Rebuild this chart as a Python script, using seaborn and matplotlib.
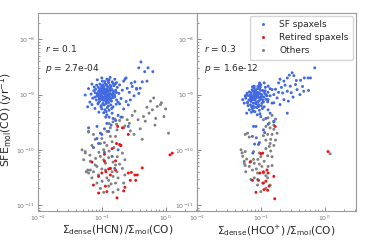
import numpy as np
import pandas as pd
import seaborn as sns
import matplotlib.pyplot as plt

# ---- data: x = dense/mol ratio, y = SFE_mol in units of 1e-10 yr^-1 ----
hcn_sf_x = [0.10, 0.11, 0.12, 0.095, 0.105, 0.115, 0.13, 0.09, 0.125, 0.14, 0.10, 0.085, 0.118, 0.108, 0.135,
            0.092, 0.15, 0.078, 0.128, 0.112, 0.098, 0.145, 0.088, 0.122, 0.16, 0.075, 0.138, 0.102, 0.082, 0.155,
            0.118, 0.107, 0.096, 0.132, 0.113, 0.124, 0.087, 0.142, 0.10, 0.165, 0.072, 0.093, 0.128, 0.117, 0.15,
            0.08, 0.108, 0.135, 0.12, 0.09, 0.17, 0.068, 0.146, 0.104, 0.126, 0.098, 0.158, 0.115, 0.083, 0.137,
            0.094, 0.11, 0.13, 0.175, 0.065, 0.12, 0.185, 0.10, 0.145, 0.078,
            0.105, 0.116, 0.099, 0.127, 0.109, 0.089, 0.121, 0.133, 0.103, 0.14, 0.097, 0.112, 0.086, 0.152, 0.119,
            0.101, 0.114, 0.123, 0.091, 0.106, 0.118, 0.131, 0.097, 0.084, 0.139, 0.127, 0.109, 0.093, 0.116, 0.147,
            0.079, 0.102, 0.12, 0.135, 0.111, 0.088, 0.154, 0.099, 0.125, 0.143, 0.107, 0.162, 0.076, 0.17, 0.13,
            0.095, 0.113, 0.121, 0.104, 0.089, 0.168, 0.18, 0.07, 0.15, 0.115,
            0.19, 0.20, 0.21, 0.22, 0.23, 0.24, 0.25, 0.27, 0.30, 0.32, 0.28, 0.35, 0.38, 0.26, 0.22,
            0.19, 0.18, 0.20, 0.24, 0.40, 0.33, 0.29, 0.06, 0.055, 0.062, 0.07, 0.085, 0.135, 0.16, 0.17,
            0.41, 0.38, 0.47, 0.53, 0.63, 0.43, 0.51, 0.35,
            0.084, 0.11, 0.128, 0.074, 0.089, 0.145, 0.159, 0.18, 0.26, 0.084, 0.10, 0.12, 0.095, 0.14, 0.11,
            0.165, 0.062, 0.15, 0.13]
hcn_sf_y = [9.5, 10.2, 8.8, 11.0, 7.9, 12.1, 9.9, 9.2, 11.5, 8.5, 12.8, 10.5, 6.9, 14.0, 13.0,
            7.5, 10.8, 9.0, 7.2, 16.0, 6.3, 12.3, 13.5, 5.8, 9.2, 11.8, 6.5, 17.5, 8.0, 14.5,
            10.0, 9.0, 10.0, 10.5, 8.2, 13.8, 6.8, 7.6, 5.5, 12.0, 8.6, 15.5, 16.5, 4.9, 6.0,
            12.5, 11.5, 9.0, 19.0, 4.8, 8.0, 10.2, 17.0, 6.9, 8.4, 13.0, 10.0, 7.5, 14.8, 11.8,
            8.5, 12.3, 5.2, 13.5, 7.3, 4.3, 10.5, 20.0, 4.6, 5.6,
            10.8, 9.4, 8.2, 10.1, 12.9, 11.6, 7.8, 8.0, 15.0, 14.0, 6.0, 5.3, 9.8, 8.8, 14.8,
            10.6, 11.1, 9.3, 8.3, 13.3, 15.2, 12.1, 11.9, 9.4, 10.2, 6.2, 6.5, 12.4, 8.6, 9.6,
            10.8, 8.7, 11.2, 14.8, 17.2, 7.1, 11.4, 14.3, 17.8, 5.6, 4.7, 15.6, 13.7, 10.9, 18.5,
            9.0, 10.1, 12.6, 11.4, 10.1, 6.7, 7.3, 6.6, 15.9, 3.9,
            15.0, 8.5, 12.0, 17.5, 19.0, 20.0, 13.0, 11.0, 14.0, 9.5, 8.0, 12.5, 10.5, 6.5, 5.5,
            6.8, 4.2, 3.9, 7.5, 13.0, 17.0, 16.0, 6.0, 9.8, 12.8, 15.5, 18.5, 20.5, 19.0, 16.5,
            39.0, 30.5, 26.0, 30.5, 26.0, 17.0, 17.5, 13.0,
            2.65, 2.4, 2.15, 1.1, 1.3, 0.76, 0.46, 1.0, 2.65, 1.6, 1.9, 3.0, 2.0, 2.8, 0.9,
            3.4, 2.5, 3.7, 3.9]

hcn_ret_x = [0.177, 0.21, 0.26, 0.20, 0.145, 0.11, 0.07, 0.128, 0.116, 0.10, 0.089, 0.136, 0.164, 0.26, 0.33,
             0.36, 0.29, 0.34, 0.28, 0.43, 0.074, 0.114, 0.12, 0.089, 0.23, 0.22, 0.173, 0.11, 0.164, 0.17,
             0.19, 1.17, 1.27, 0.136]
hcn_ret_y = [2.65, 2.5, 1.9, 1.2, 1.05, 0.83, 0.6, 0.45, 0.40, 0.38, 0.33, 0.35, 0.43, 0.38, 0.35,
             0.35, 0.39, 0.28, 0.28, 0.47, 0.23, 0.22, 0.175, 0.165, 0.21, 0.18, 0.135, 0.62, 0.63, 1.3,
             1.25, 0.81, 0.87, 0.46]

hcn_oth_x = [0.65, 0.58, 0.86, 0.74, 0.51, 0.62, 0.55, 0.94, 0.45, 0.70, 0.48, 0.68, 0.37, 0.83, 1.0,
             1.11, 0.30, 0.27, 0.40, 0.33,
             0.062, 0.055, 0.052, 0.066, 0.06, 0.074, 0.079, 0.089, 0.101, 0.084, 0.12, 0.128, 0.107, 0.164, 0.18,
             0.145, 0.164, 0.21, 0.23, 0.114, 0.128, 0.095, 0.107, 0.12, 0.145, 0.164, 0.136, 0.12, 0.136, 0.173,
             0.22, 0.32, 0.43, 0.21, 0.23, 0.195, 0.062, 0.07, 0.15, 0.18, 0.095, 0.079, 0.10, 0.07, 0.107,
             0.084, 0.136, 0.114, 0.15, 0.128, 0.173, 0.22, 0.049, 0.055, 0.062, 0.074, 0.066, 0.057, 0.15, 0.17,
             0.19, 0.13, 0.23, 0.25, 0.28, 0.16, 0.21,
             0.09, 0.10, 0.13, 0.155, 0.175, 0.08, 0.095, 0.14, 0.065, 0.11, 0.15, 0.19]
hcn_oth_y = [8.7, 7.6, 7.1, 6.1, 5.9, 5.3, 4.6, 4.0, 4.0, 3.7, 3.3, 2.8, 3.5, 6.6, 5.5,
             2.0, 4.2, 3.0, 2.4, 5.0,
             2.15, 0.93, 0.66, 0.62, 0.43, 0.40, 0.53, 0.35, 0.27, 0.25, 0.31, 0.22, 0.17, 0.25, 0.31,
             0.40, 0.53, 0.46, 0.35, 0.57, 0.72, 0.76, 1.0, 1.2, 1.4, 1.75, 1.75, 2.15, 2.5, 2.3,
             2.5, 1.9, 1.55, 0.87, 0.66, 1.2, 0.38, 0.31, 0.17, 0.19, 1.3, 1.55, 1.6, 1.2, 0.66,
             0.5, 0.46, 0.43, 0.33, 0.28, 0.40, 0.25, 1.0, 0.88, 2.1, 1.9, 0.43, 0.40, 3.2, 2.9,
             3.4, 3.0, 2.7, 3.5, 2.2, 3.6, 3.9,
             0.9, 0.45, 0.95, 1.1, 0.75, 0.7, 0.2, 0.24, 0.8, 1.35, 0.6, 0.55]

hco_sf_x = [0.075, 0.08, 0.07, 0.085, 0.09, 0.078, 0.068, 0.095, 0.082, 0.088, 0.072, 0.10, 0.092, 0.065, 0.098,
            0.076, 0.083, 0.105, 0.07, 0.062, 0.11, 0.087, 0.079, 0.096, 0.058, 0.102, 0.074, 0.115, 0.066, 0.09,
            0.12, 0.081, 0.06, 0.108, 0.095, 0.073, 0.125, 0.086, 0.077, 0.093, 0.104, 0.069, 0.084, 0.113, 0.097,
            0.071, 0.13, 0.118, 0.10, 0.055,
            0.078, 0.087, 0.073, 0.091, 0.082, 0.069, 0.099, 0.084, 0.094, 0.076, 0.103, 0.066, 0.089, 0.071, 0.107,
            0.08, 0.098, 0.063, 0.112, 0.086, 0.075, 0.093, 0.117, 0.061, 0.081, 0.10, 0.106, 0.072, 0.12, 0.088,
            0.057, 0.128, 0.14, 0.096, 0.074,
            0.052, 0.059, 0.062, 0.07, 0.079, 0.095, 0.113, 0.13, 0.15, 0.11, 0.066, 0.076, 0.09, 0.13, 0.10,
            0.12, 0.14, 0.16, 0.06, 0.13, 0.14, 0.16, 0.15,
            0.70, 0.55, 0.48, 0.31, 0.28, 0.26, 0.33, 0.23, 0.19, 0.35, 0.42, 0.29, 0.37, 0.47, 0.56,
            0.26, 0.30, 0.22, 0.41, 0.23, 0.18, 0.27, 0.16, 0.20, 0.26, 0.21, 0.17, 0.24, 0.20, 0.36,
            0.45, 0.60, 0.32, 0.19,
            0.084, 0.11, 0.115, 0.074, 0.085, 0.08, 0.092, 0.095, 0.075, 0.13, 0.16, 0.077]
hco_sf_y = [8.1, 9.0, 7.5, 8.6, 9.8, 10.5, 9.2, 7.8, 7.0, 11.0, 8.8, 8.4, 6.6, 8.0, 10.2,
            6.2, 12.0, 9.3, 10.0, 7.2, 7.4, 5.8, 13.0, 12.5, 8.6, 6.3, 5.5, 10.5, 11.2, 14.0,
            8.2, 4.9, 9.8, 11.8, 5.2, 12.2, 9.5, 7.3, 9.6, 8.9, 7.0, 6.5, 10.0, 6.0, 4.5,
            4.8, 11.0, 13.5, 15.0, 7.0,
            8.4, 9.4, 9.0, 7.5, 11.4, 8.3, 8.9, 6.8, 10.8, 7.0, 10.0, 9.6, 12.8, 7.9, 8.0,
            5.9, 13.7, 6.3, 9.0, 10.4, 11.6, 6.1, 11.7, 10.6, 8.0, 11.9, 5.6, 5.9, 10.0, 4.3,
            9.5, 7.4, 12.8, 16.2, 13.8,
            8.1, 9.3, 7.1, 10.7, 14.2, 15.2, 16.3, 14.2, 12.3, 11.5, 5.3, 5.0, 6.2, 5.3, 4.0,
            3.7, 4.6, 3.3, 4.6, 8.1, 9.5, 10.0, 7.0,
            30.5, 20.0, 20.0, 24.8, 22.5, 20.0, 22.0, 17.5, 16.3, 15.2, 18.2, 14.2, 12.3, 11.5, 11.9,
            11.5, 10.8, 10.7, 10.0, 8.1, 8.7, 7.6, 7.1, 6.6, 4.6, 13.5, 12.5, 14.8, 19.0, 18.0,
            14.0, 20.0, 9.0, 11.0,
            2.65, 2.3, 2.05, 1.75, 1.65, 1.27, 1.25, 1.35, 0.87, 2.9, 3.2, 2.65]

hco_ret_x = [0.168, 0.107, 0.068, 0.125, 0.11, 0.097, 0.13, 0.16, 0.074, 0.092, 0.11, 0.135, 0.112, 0.128, 0.084,
             0.165, 0.10, 1.13, 0.12]
hco_ret_y = [2.65, 0.87, 0.60, 0.43, 0.40, 0.38, 0.38, 0.33, 0.28, 0.28, 0.25, 0.22, 0.19, 0.185, 0.17,
             0.13, 0.85, 0.93, 0.27]

hco_oth_x = [0.136, 0.12, 0.14, 0.16, 0.128, 0.15, 0.143, 0.12, 0.16, 0.136, 0.143, 0.128, 0.15, 0.049, 0.051,
             0.057, 0.055, 0.07, 0.077, 0.066, 0.079, 0.09, 0.113, 0.104, 0.074, 0.058, 0.089, 0.11, 0.079, 0.089,
             0.07, 0.128, 0.107, 0.089, 0.12, 0.10, 0.14, 0.13, 0.15, 0.062, 0.057, 0.066, 0.16, 0.18, 0.095,
             0.077, 0.052, 0.055, 0.06, 0.057, 1.22, 0.11, 0.13, 0.15, 0.17, 0.12, 0.10, 0.14, 0.11, 0.17,
             0.085, 0.12, 0.095]
hco_oth_y = [3.06, 2.65, 2.5, 2.8, 1.9, 1.9, 1.55, 1.5, 1.2, 1.15, 0.95, 0.78, 0.75, 1.0, 0.88,
             0.93, 0.57, 0.62, 0.67, 0.5, 0.57, 0.67, 0.62, 0.5, 0.43, 0.40, 0.38, 0.38, 0.31, 0.29,
             0.29, 0.31, 0.25, 0.23, 0.2, 0.175, 0.23, 0.5, 0.52, 2.0, 1.9, 1.7, 2.35, 2.0, 0.88,
             0.93, 0.76, 0.62, 0.68, 0.52, 0.85, 3.5, 3.8, 4.2, 3.6, 1.05, 0.75, 1.3, 1.8, 1.5,
             0.45, 0.34, 0.55]

labels = ["SF spaxels", "Retired spaxels", "Others"]
colors = ["#4169e1", "#ee1111", "#808080"]
stats = [("0.1", "2.7e-04"), ("0.3", "1.6e-12")]
xlabels = [r"$\Sigma_{\rm dense}$(HCN)$\,/\Sigma_{\rm mol}$(CO)",
           r"$\Sigma_{\rm dense}$(HCO$^{+}$)$\,/\Sigma_{\rm mol}$(CO)"]


def make_df(sx, sy, rx, ry, ox, oy):
    parts = []
    for lab, xs, ys in [(labels[2], ox, oy), (labels[1], rx, ry), (labels[0], sx, sy)]:
        parts.append(pd.DataFrame({"x": xs, "y": np.array(ys) * 1e-10, "cls": lab}))
    return pd.concat(parts, ignore_index=True)


dfs = [make_df(hcn_sf_x, hcn_sf_y, hcn_ret_x, hcn_ret_y, hcn_oth_x, hcn_oth_y),
       make_df(hco_sf_x, hco_sf_y, hco_ret_x, hco_ret_y, hco_oth_x, hco_oth_y)]

sns.set_style("ticks")
plt.rcParams["font.family"] = ["DejaVu Sans"]

fig = plt.figure(figsize=(3.74, 2.49), dpi=100)
ax1 = fig.add_axes([0.1016, 0.1526, 0.4251, 0.7952])
ax2 = fig.add_axes([0.5267, 0.1526, 0.4251, 0.7952])
pal = dict(zip(labels, colors))

for i, (ax, df) in enumerate(zip([ax1, ax2], dfs)):
    sns.scatterplot(data=df, x="x", y="y", hue="cls", palette=pal, s=4.5, linewidth=0,
                    ax=ax, legend=(i == 1))
    ax.set_xscale("log")
    ax.set_yscale("log")
    ax.set_xlim(0.01, 3.1)
    ax.set_ylim(7.8e-12, 3e-8)
    ax.tick_params(which="both", direction="in", colors="0.45", labelsize=4.5, pad=2)
    ax.tick_params(which="major", length=3, width=0.6)
    ax.tick_params(which="minor", length=1.6, width=0.5)
    for sp in ax.spines.values():
        sp.set_color("0.6")
        sp.set_linewidth(0.8)
    ax.set_xlabel(xlabels[i], fontsize=7.6, labelpad=0)
    ax.text(0.045, 0.82, r"$r$ = " + stats[i][0], transform=ax.transAxes, fontsize=6.5, va="center")
    ax.text(0.045, 0.72, r"$p$ = " + stats[i][1], transform=ax.transAxes, fontsize=6.5, va="center")

ax1.set_ylabel(r"SFE$_{\rm mol}$(CO) (yr$^{-1}$)", fontsize=7.8)
ax1.yaxis.set_label_coords(-0.145, 0.46)
ax2.set_ylabel("")

h, l = ax2.get_legend_handles_labels()
order = [l.index(n) for n in labels]
ax2.legend([h[k] for k in order], labels, loc="upper right", fontsize=6.5, markerscale=1.0,
           frameon=True, edgecolor="0.8", fancybox=True, handletextpad=0.8, borderpad=0.5,
           labelspacing=0.45, borderaxespad=0.3)

fig.savefig("out.png", dpi=100)
